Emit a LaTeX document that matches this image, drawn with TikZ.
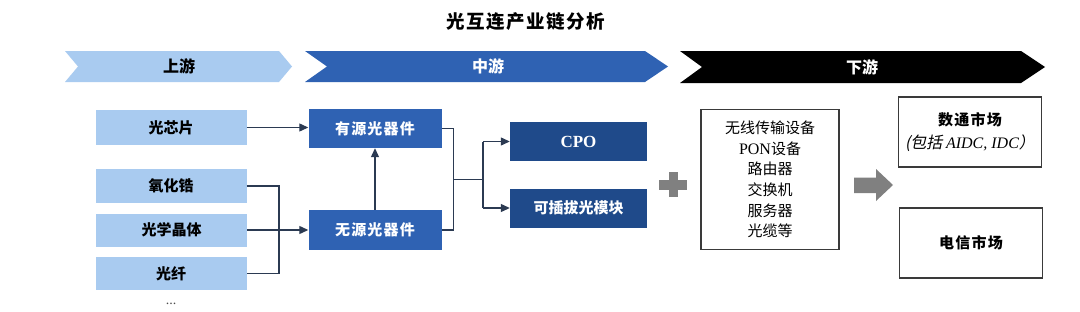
\documentclass[tikz,border=0pt]{standalone}
\usepackage{fontspec}
\setmainfont{Liberation Serif}
\newfontfamily\cjk{Noto Sans CJK SC}
\newfontfamily\cjksp[LetterSpace=8]{Noto Sans CJK SC}
\newfontfamily\cjkit[FakeSlant=0.2]{Noto Sans CJK SC}
\usetikzlibrary{arrows.meta,calc}
\definecolor{lightb}{HTML}{A9CBF0}
\definecolor{midb}{HTML}{2F62B3}
\definecolor{darkb}{HTML}{1F4A8A}
\definecolor{linec}{HTML}{2B3A52}
\definecolor{grayc}{HTML}{808080}
\definecolor{framec}{HTML}{3A3A3A}
\begin{document}
\begin{tikzpicture}[x=1pt,y=-1pt,
  upbox/.style={fill=lightb,minimum width=151pt,minimum height=34pt,inner sep=0pt,font=\cjk\bfseries\fontsize{15}{17}\selectfont,text=black},
  midbox/.style={fill=midb,minimum width=133pt,minimum height=39pt,inner sep=0pt,font=\cjksp\bfseries\fontsize{15}{17}\selectfont,text=white},
  outbox/.style={fill=darkb,minimum width=137pt,minimum height=39pt,inner sep=0pt,font=\cjk\bfseries\fontsize{15}{17}\selectfont,text=white},
  frbox/.style={draw=framec,line width=1.1pt,fill=white,inner sep=0pt,align=center},
  conn/.style={draw=linec,line width=1.2pt},
  arr/.style={conn,-{Triangle[length=9pt,width=8pt]}},
  bannertxt/.style={font=\cjk\bfseries\fontsize{16}{18}\selectfont}
]
\useasboundingbox (0,0) rectangle (1080,311);
\fill[white] (0,0) rectangle (1080,311);

% title
\node[font=\cjksp\bfseries\fontsize{18.5}{20}\selectfont] (title) at (526,22) {光互连产业链分析};

% banners
\fill[lightb] (65,51) -- (279,51) -- (292,66.5) -- (279,82) -- (65,82) -- (78,66.5) -- cycle;
\fill[midb] (305,51) -- (645,51) -- (668,66.5) -- (645,82) -- (305,82) -- (327,66.5) -- cycle;
\fill[black] (680,51) -- (1021,51) -- (1045,67) -- (1021,83) -- (680,83) -- (702,67) -- cycle;
\node[bannertxt,text=black] (up) at (179,66.5) {上游};
\node[bannertxt,text=white] (mid) at (488,66.5) {中游};
\node[bannertxt,text=white] (down) at (862,67) {下游};

% upstream boxes
\node[upbox,minimum height=35pt] (chip) at (171,127.5) {光芯片};
\node[upbox] (zr) at (171,186) {氧化锆};
\node[upbox,minimum height=33pt] (crystal) at (171.5,230) {光学晶体};
\node[upbox,minimum height=33pt] (fiber) at (171,273.5) {光纤};
\node[text=black!70,font=\fontsize{14}{14}\selectfont] (dots) at (171,304) {...};

% midstream boxes
\node[midbox] (active) at (375,128.5) {有源光器件};
\node[midbox,minimum height=40pt] (passive) at (375,230) {无源光器件};
\node[outbox,font=\bfseries\fontsize{17}{19}\selectfont] (cpo) at (578.5,141.5) {CPO};
\node[outbox] (plug) at (578.5,208) {可插拔光模块};

% connectors
\coordinate (j1) at (279,0);
\coordinate (j2) at (453.5,0);
\coordinate (j3) at (483,179.25);
\draw[arr] (chip.east) -- (chip.east -| active.west);
\draw[conn] (zr.east) -- (zr.east -| j1) -- (fiber.east -| j1) -- (fiber.east);
\draw[arr] (crystal.east) -- (passive.west);
\draw[arr] (passive.north) -- (active.south);
\draw[conn] (active.east) -- (active.east -| j2) -- (passive.east -| j2) -- (passive.east);
\draw[conn] (j2 |- j3) -- (j3);
\draw[conn] (j3 |- cpo.west) -- (j3 |- plug.west);
\draw[arr] (j3 |- cpo.west) -- (cpo.west);
\draw[arr] (j3 |- plug.west) -- (plug.west);

% plus sign
\fill[grayc] (659,180) rectangle (686.5,189.5);
\fill[grayc] (668.5,172) rectangle (677.5,197);

% downstream box
\node[frbox,minimum width=138pt,minimum height=140pt,font=\cjk\fontsize{15}{20.7}\selectfont] (equip) at (770,179.5)
  {无线传输设备\\{\rmfamily\fontsize{16}{20.7}\selectfont PON}设备\\路由器\\交换机\\服务器\\光缆等};

% big arrow
\fill[grayc] (854,177.6) -- (876,177.6) -- (876,169) -- (893,185) -- (876,201) -- (876,193) -- (854,193) -- cycle;

% markets
\node[frbox,minimum width=143pt,minimum height=70pt,font=\cjksp\bfseries\fontsize{15}{23}\selectfont] (dc) at (970,132)
  {数通市场\\{\cjkit\mdseries\fontsize{16}{23}\selectfont (包括 {\rmfamily\itshape AIDC, IDC}）}};
\node[frbox,minimum width=143pt,minimum height=70pt,font=\cjksp\bfseries\fontsize{15}{17}\selectfont] (tel) at (971,243) {电信市场};
\end{tikzpicture}
\end{document}
